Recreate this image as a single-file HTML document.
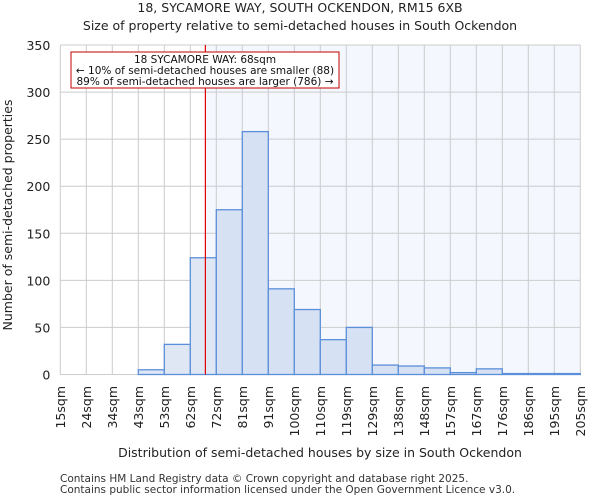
<!DOCTYPE html>
<html><head><meta charset="utf-8"><style>
body{margin:0;background:#fff;font-family:"DejaVu Sans","Liberation Sans",sans-serif;}
svg{display:block}
</style></head><body>
<svg width="600" height="500" xmlns="http://www.w3.org/2000/svg">
<g id="chart"></g>
</svg>
<script>
const categories=["15sqm","24sqm","34sqm","43sqm","53sqm","62sqm","72sqm","81sqm","91sqm","100sqm","110sqm","119sqm","129sqm","138sqm","148sqm","157sqm","167sqm","176sqm","186sqm","195sqm","205sqm"];
const counts=[0,0,0,5,32,124,175,258,91,69,37,50,10,9,7,2,6,1,1,1];
const yTicks=[0,50,100,150,200,250,300,350];
const markerBin=5.58;
const NS="http://www.w3.org/2000/svg";
const g=document.getElementById('chart');
const L=60.3,R=580.3,T=45,B=374.5,yMax=350;
const bw=(R-L)/counts.length;
const xs=i=>L+i*bw;
const ys=v=>B-(v/yMax)*(B-T);
function el(t,a,txt){const e=document.createElementNS(NS,t);for(const k in a)e.setAttribute(k,a[k]);if(txt!=null)e.textContent=txt;g.appendChild(e);return e;}
const mx=xs(markerBin);
const hl=el('rect',{x:mx,y:T,width:R-mx,height:B-T,fill:'#f4f7fe'});


for(let i=0;i<categories.length;i++){const l=el('line',{x1:xs(i),x2:xs(i),y1:T,y2:B,stroke:'#cccccc','stroke-width':1});

}
yTicks.forEach(v=>{const l=el('line',{x1:L,x2:R,y1:ys(v),y2:ys(v),stroke:'#cccccc','stroke-width':1});


const t=el('text',{x:L-10,y:ys(v)+5,'text-anchor':'end','font-size':12.5,fill:'#222'},v);

});
counts.forEach((v,i)=>{const r=el('rect',{x:xs(i),y:ys(v),width:bw,height:B-ys(v),fill:i<6?'#dfe7f4':'#d6e1f3',stroke:'#5b8fd9','stroke-width':1.3});

});
categories.forEach((c,i)=>{const x=xs(i)+4.5;const t=el('text',{x:x,y:386,'text-anchor':'end','font-size':12.5,fill:'#222',transform:`rotate(-90 ${x} 386)`},c);

});
const ml=el('line',{x1:mx,x2:mx,y1:T,y2:B,stroke:'#e00000','stroke-width':1.2});


const box=el('rect',{x:71,y:52,width:268,height:36,fill:'#fff',stroke:'#c00000','stroke-width':1});


[["18 SYCAMORE WAY: 68sqm",63],["← 10% of semi-detached houses are smaller (88)",74],["89% of semi-detached houses are larger (786) →",85]].forEach(([s,y])=>{const t=el('text',{x:205,y:y,'text-anchor':'middle','font-size':10.5,fill:'#111'},s);

});
const t1=el('text',{x:300,y:12,'text-anchor':'middle','font-size':12.5,fill:'#222'},"18, SYCAMORE WAY, SOUTH OCKENDON, RM15 6XB");


const t2=el('text',{x:300,y:30,'text-anchor':'middle','font-size':12.5,fill:'#222'},"Size of property relative to semi-detached houses in South Ockendon");


const xt=el('text',{x:320,y:457,'text-anchor':'middle','font-size':12.5,fill:'#222'},"Distribution of semi-detached houses by size in South Ockendon");


const yt=el('text',{x:12,y:215,'text-anchor':'middle','font-size':12.5,fill:'#222',transform:'rotate(-90 12 215)'},"Number of semi-detached properties");


const f1=el('text',{x:60,y:482,'font-size':10.5,fill:'#333'},"Contains HM Land Registry data © Crown copyright and database right 2025.");


const f2=el('text',{x:60,y:493,'font-size':10.5,fill:'#333'},"Contains public sector information licensed under the Open Government Licence v3.0.");


</script>
</body></html>
